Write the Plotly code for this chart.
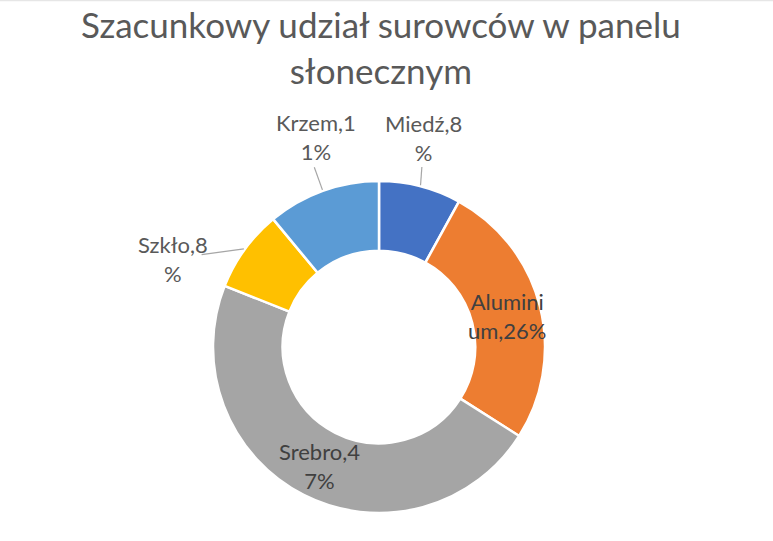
import math
import plotly.graph_objects as go

# ---- data ----
labels = ["Miedź", "Aluminium", "Srebro", "Szkło", "Krzem"]
values = [8, 26, 47, 8, 11]
wrap_at = [7, 7, 8, 7, 7]  # Excel-style line wrap position in label text
title_text = "Szacunkowy udział surowców w panelu<br>słonecznym"

# ---- styles / layout ----
colors = ["#4472C4", "#ED7D31", "#A5A5A5", "#FFC000", "#5B9BD5"]
W, H = 773, 541
cx, cy, R = 379, 347, 166          # pixel centre and outer radius of donut
hole = 0.58
# label centre (radius px, angle offset from slice middle, deg) and leader end
label_pos = [(214, -2.5), (132, 0.8), (133, -0.6), (224, -13), (219, 3)]
leader_end = [(185, -1.0), None, None, (200, -8.5), (191, 0)]
font_family = "Lato, 'Open Sans', sans-serif"

fig = go.Figure(go.Pie(
    labels=labels, values=values, sort=False, direction="clockwise", rotation=0,
    hole=hole, textinfo="none", hoverinfo="label+percent",
    marker=dict(colors=colors, line=dict(color="white", width=2.5)),
    domain=dict(x=[(cx - R) / W, (cx + R) / W], y=[(H - cy - R) / H, (H - cy + R) / H]),
    showlegend=False,
))

total = sum(values)
cum = 0
annotations = []
shapes = []
def to_paper(r, ang):
    a = math.radians(ang)
    px = cx + r * math.sin(a)
    py = cy - r * math.cos(a)
    return px / W, 1 - py / H

for i, (lab, v) in enumerate(zip(labels, values)):
    mid = (cum + v / 2) / total * 360
    cum += v
    txt = f"{lab},{round(v / total * 100)}%"
    txt = txt[:wrap_at[i]] + "<br>" + txt[wrap_at[i]:]
    lr, lo = label_pos[i]
    x, y = to_paper(lr, mid + lo)
    inside = lr < R
    annotations.append(dict(
        x=x, y=y, xref="paper", yref="paper", text=txt, showarrow=False,
        xanchor="center", yanchor="middle", align="center",
        font=dict(family=font_family, size=22, color="#404040" if inside else "#595959"),
    ))
    if leader_end[i] is not None:
        x0, y0 = to_paper(R + 1, mid)
        er, eo = leader_end[i]
        x1, y1 = to_paper(er, mid + eo)
        shapes.append(dict(type="line", xref="paper", yref="paper", x0=x0, y0=y0, x1=x1, y1=y1,
                           line=dict(color="#A6A6A6", width=1.2)))

# faint chart-area border along the top edge
shapes.append(dict(type="line", xref="paper", yref="paper", x0=0, x1=1, y0=1 - 0.5 / H, y1=1 - 0.5 / H,
                   line=dict(color="#E6E6E6", width=1.5)))

annotations.append(dict(
    x=(381) / W, y=1 - 47 / H, xref="paper", yref="paper", text=title_text, showarrow=False,
    xanchor="center", yanchor="middle", align="center",
    font=dict(family=font_family, size=35, color="#595959"),
))

fig.update_layout(
    width=W, height=H, autosize=False,
    margin=dict(l=0, r=0, t=0, b=0),
    paper_bgcolor="white", plot_bgcolor="white",
    annotations=annotations, shapes=shapes,
)
fig.write_html("out.html", config={"displayModeBar": False},
               post_script="document.body.style.margin='0';")
